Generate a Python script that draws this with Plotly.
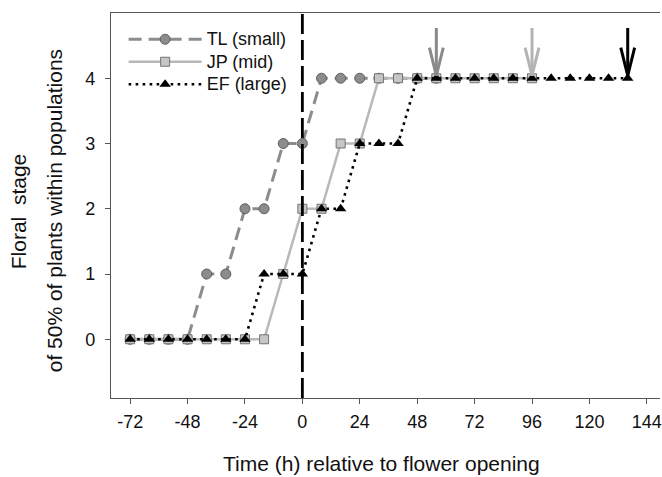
import plotly.graph_objects as go

# ---- data ----
tl_time = [-72, -64, -56, -48, -40, -32, -24, -16, -8, 0, 8, 16, 24, 32, 40, 48, 56]
tl_stage = [0, 0, 0, 0, 1, 1, 2, 2, 3, 3, 4, 4, 4, 4, 4, 4, 4]

jp_time = [-72, -64, -56, -48, -40, -32, -24, -16, -8, 0, 8, 16, 24, 32, 40, 48, 56, 64, 72, 80, 88, 96]
jp_stage = [0, 0, 0, 0, 0, 0, 0, 0, 1, 2, 2, 3, 3, 4, 4, 4, 4, 4, 4, 4, 4, 4]

ef_time = [-72, -64, -56, -48, -40, -32, -24, -16, -8, 0, 8, 16, 24, 32, 40, 48, 56, 64, 72, 80,
           88, 96, 104, 112, 120, 128, 136]
ef_stage = [0, 0, 0, 0, 0, 0, 0, 1, 1, 1, 2, 2, 3, 3, 3, 4, 4, 4, 4, 4, 4, 4, 4, 4, 4, 4, 4]

series_names = ["TL (small)", "JP (mid)", "EF (large)"]
arrow_times = [56, 96, 136]          # end of observation for each population
arrow_stage = 4
x_ticks = [-72, -48, -24, 0, 24, 48, 72, 96, 120, 144]
y_ticks = [0, 1, 2, 3, 4]

x_title = "Time (h) relative to flower opening"
y_title_1 = "Floral  stage"
y_title_2 = "of 50% of plants within populations"

# ---- styles ----
FONT = "Liberation Sans, Arial, sans-serif"
TL_COL, TL_EDGE = "#8c8c8c", "#5e5e5e"
JP_COL, JP_FILL, JP_EDGE = "#b8b8b8", "#c6c6c6", "#737373"
EF_COL = "#000000"
arrow_colors = ["#8a8a8a", "#b3b3b3", "#000000"]


def legend_label(s):
    return "<span style='font-size:18px'>" + s + "</span>"


fig = go.Figure()

fig.add_trace(go.Scatter(
    x=tl_time, y=tl_stage, name=legend_label(series_names[0]), mode="lines+markers",
    line=dict(color=TL_COL, width=3, dash="13px,7px"),
    marker=dict(symbol="circle", size=10, color=TL_COL, line=dict(color=TL_EDGE, width=1)),
))
fig.add_trace(go.Scatter(
    x=jp_time, y=jp_stage, name=legend_label(series_names[1]), mode="lines+markers",
    line=dict(color=JP_COL, width=2.5),
    marker=dict(symbol="square", size=9, color=JP_FILL, line=dict(color=JP_EDGE, width=1)),
))
fig.add_trace(go.Scatter(
    x=ef_time, y=ef_stage, name=legend_label(series_names[2]), mode="lines+markers",
    line=dict(color=EF_COL, width=2.6, dash="2.6px,4.4px"),
    marker=dict(symbol="triangle-up", size=10, color=EF_COL, line=dict(color=EF_COL, width=0)),
))

# arrows (open V heads) marking the last observation of each population
shaft_top, wing_top, tip, half_w = 4.77, 4.47, 4.04, 2.9
for t, c in zip(arrow_times, arrow_colors):
    fig.add_trace(go.Scatter(
        x=[t, t, None, t - half_w, t, t + half_w],
        y=[shaft_top, arrow_stage + (tip - 4), None, wing_top, arrow_stage + (tip - 4), wing_top],
        mode="lines", line=dict(color=c, width=3), showlegend=False, hoverinfo="skip",
    ))

# vertical dashed line at flower opening
fig.add_shape(type="line", xref="x", yref="paper", x0=0, x1=0, y0=0, y1=1,
              line=dict(color="#000000", width=2.8, dash="20px,6px"))

fig.add_annotation(text=x_title, xref="paper", yref="paper", x=0.493, y=0, yshift=-65,
                   showarrow=False, xanchor="center", yanchor="middle",
                   font=dict(family=FONT, size=21, color="#111111"))
fig.add_annotation(text=y_title_1, xref="paper", yref="paper", x=0, xshift=-93, y=0.485,
                   textangle=-90, showarrow=False, xanchor="center", yanchor="middle",
                   font=dict(family=FONT, size=21, color="#111111"))
fig.add_annotation(text=y_title_2, xref="paper", yref="paper", x=0, xshift=-57, y=0.485,
                   textangle=-90, showarrow=False, xanchor="center", yanchor="middle",
                   font=dict(family=FONT, size=21, color="#111111"))

axis_common = dict(showgrid=False, zeroline=False, showline=True, linecolor="#555555",
                   linewidth=1.3, ticks="outside", ticklen=5, tickwidth=1.3, tickcolor="#555555",
                   tickfont=dict(family=FONT, size=18, color="#111111"))

fig.update_layout(
    width=662, height=477, autosize=False,
    margin=dict(l=111, r=0, t=13, b=79),
    paper_bgcolor="white", plot_bgcolor="white",
    xaxis=dict(range=[-80, 149.5], tickvals=x_ticks, ticktext=[str(v) for v in x_ticks],
               mirror=True, ticklabelstandoff=2, ticklabeloverflow="allow", **axis_common),
    yaxis=dict(range=[-0.9, 5.0], tickvals=y_ticks, ticktext=[str(v) for v in y_ticks],
               mirror=False, ticklabelstandoff=6, **axis_common),
    legend=dict(x=0.023, y=0.974, xanchor="left", yanchor="top", bgcolor="rgba(0,0,0,0)",
                font=dict(family=FONT, size=15, color="#111111"), itemwidth=73,
                tracegroupgap=0),
    showlegend=True,
)

fig.write_html("out.html", config={"displayModeBar": False},
               post_script="document.body.style.margin='0';document.body.style.overflow='hidden';")
